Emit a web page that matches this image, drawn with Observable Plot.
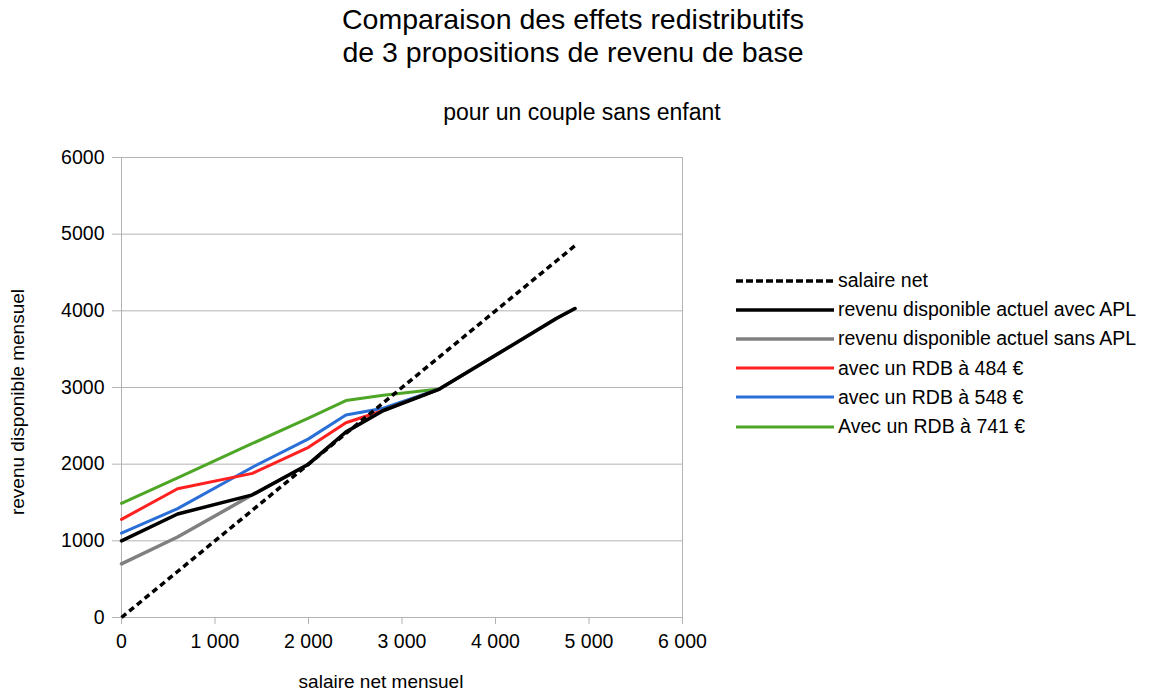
<!DOCTYPE html>
<html>
<head>
<meta charset="utf-8">
<script src="https://cdn.jsdelivr.net/npm/d3@7"></script>
<script src="https://cdn.jsdelivr.net/npm/@observablehq/plot@0.6"></script>
<style>
  html, body { margin: 0; padding: 0; background: #fff; }
  body { width: 1168px; height: 693px; position: relative; overflow: hidden; font-family: "Liberation Sans", Arial, sans-serif; color: #000; }
  .abs { position: absolute; white-space: nowrap; }
  #title { left: 273px; width: 600px; top: 3px; text-align: center; font-size: 28.5px; line-height: 33px; }
  #subtitle { left: 382px; width: 400px; top: 99px; text-align: center; font-size: 23px; }
  #ylabel { left: 18px; top: 402px; font-size: 19px; transform: translate(-50%, -50%) rotate(-90deg); }
  #xlabel { left: 381px; top: 682px; font-size: 19px; line-height: 20px; transform: translate(-50%, -50%); }
  #chart { position: absolute; left: 0; top: 0; }
  #legend { left: 736px; top: 266px; }
  .item { display: flex; align-items: center; height: 29.2px; font-size: 19.5px; }
  .item svg { margin-right: 4px; }
</style>
</head>
<body>
<div id="title" class="abs">Comparaison des effets redistributifs<br>de 3 propositions de revenu de base</div>
<div id="subtitle" class="abs">pour un couple sans enfant</div>
<div id="ylabel" class="abs">revenu disponible mensuel</div>
<div id="xlabel" class="abs">salaire net mensuel</div>
<div id="chart"></div>
<div id="legend" class="abs"></div>
<script>
// ---- data ----
const salaire   = [0, 600, 1400, 2000, 2400, 2800, 3400, 4000, 4650, 4850];
const salaireNet = [0, 600, 1400, 2000, 2400, 2800, 3400, 4000, 4650, 4850];
const avecAPL   = [1000, 1350, 1600, 2000, 2420, 2700, 2980, 3420, 3900, 4030];
const sansAPL   = [700, 1050, 1600, 2000, 2420, 2700, 2980, 3420, 3900, 4030];
const rdb484    = [1280, 1680, 1880, 2220, 2540, 2700, 2980, null, null, null];
const rdb548    = [1100, 1420, 1960, 2330, 2640, 2730, 2980, null, null, null];
const rdb741    = [1490, 1820, 2270, 2600, 2830, 2900, 2980, null, null, null];
const seriesNames = ["salaire net", "revenu disponible actuel avec APL", "revenu disponible actuel sans APL",
                     "avec un RDB à 484 €", "avec un RDB à 548 €", "Avec un RDB à 741 €"];
const xTicks = [0, 1000, 2000, 3000, 4000, 5000, 6000];
const yTicks = [0, 1000, 2000, 3000, 4000, 5000, 6000];

const colors = ["#000000", "#000000", "#808080", "#ff2020", "#2a6fd8", "#4ea626"];
const dashes = ["6,4", null, null, null, null, null];
const widths = [3.5, 3.5, 3.5, 3, 3, 3];
const valuesBySeries = [salaireNet, avecAPL, sansAPL, rdb484, rdb548, rdb741];

const rows = [];
valuesBySeries.forEach((vals, i) => {
  vals.forEach((v, j) => { if (v != null) rows.push({ s: seriesNames[i], x: salaire[j], y: v, i }); });
});

const drawOrder = [5, 4, 3, 2, 1, 0];
const lineMarks = drawOrder.map(i => Plot.line(rows.filter(r => r.i === i), {
  x: "x", y: "y", stroke: colors[i], strokeWidth: widths[i],
  strokeDasharray: dashes[i] || undefined, strokeLinejoin: "round", strokeLinecap: dashes[i] ? "butt" : "round"
}));

const fmtX = d => d === 0 ? "0" : d3.format(",")(d).replace(/,/g, " ");

const chart = Plot.plot({
  width: 720, height: 693,
  marginLeft: 121, marginRight: 38, marginTop: 157, marginBottom: 76,
  style: { fontFamily: "Liberation Sans, Arial, sans-serif", fontSize: "19.5px", color: "#000", background: "transparent" },
  x: { domain: [0, 6000] },
  y: { domain: [0, 6000] },
  marks: [
    Plot.gridY(yTicks, { stroke: "#b3b3b3", strokeOpacity: 1, strokeWidth: 1 }),
    Plot.ruleX([0, 6000], { stroke: "#b3b3b3", strokeWidth: 1 }),
    Plot.axisY({ ticks: yTicks, tickSize: 9, tickPadding: 8, stroke: "#b3b3b3", tickFormat: d => String(d), label: null, fill: "#000" }),
    Plot.axisX({ ticks: xTicks, tickSize: 7, tickPadding: 10, stroke: "#b3b3b3", tickFormat: fmtX, label: null, fill: "#000" }),
    ...lineMarks
  ]
});
document.getElementById("chart").appendChild(chart);

// legend
const legend = document.getElementById("legend");
seriesNames.forEach((name, i) => {
  const item = document.createElement("div");
  item.className = "item";
  const sw = d3.create("svg").attr("width", 98).attr("height", 10);
  sw.append("line").attr("x1", 0).attr("x2", 98).attr("y1", 5).attr("y2", 5)
    .attr("stroke", colors[i]).attr("stroke-width", widths[i])
    .attr("stroke-dasharray", dashes[i] ? "7,3" : null);
  item.appendChild(sw.node());
  const t = document.createElement("span");
  t.textContent = name;
  item.appendChild(t);
  legend.appendChild(item);
});
</script>
</body>
</html>
